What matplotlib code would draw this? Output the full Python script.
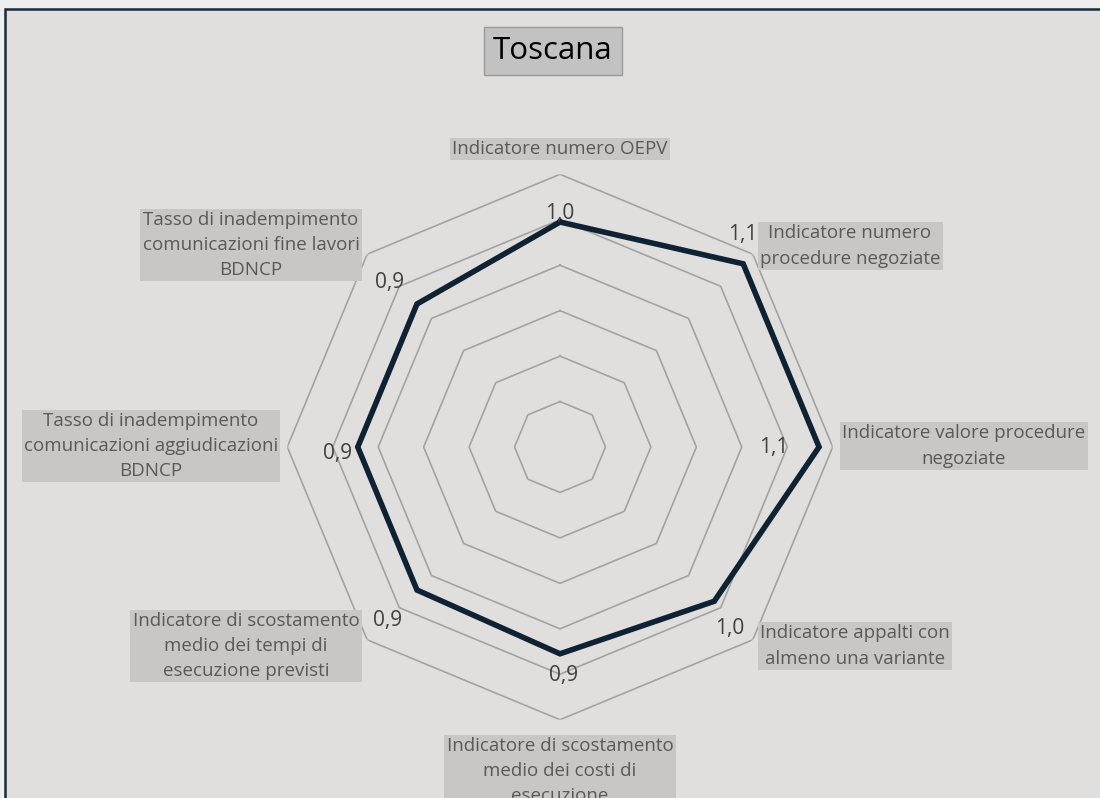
import numpy as np
import matplotlib.pyplot as plt
from matplotlib.patches import Rectangle

# Dati del grafico radar (Toscana)
titolo = "Toscana"
categorie = [
    "Indicatore numero OEPV",
    "Indicatore numero\nprocedure negoziate",
    "Indicatore valore procedure\nnegoziate",
    "Indicatore appalti con\nalmeno una variante",
    "Indicatore di scostamento\nmedio dei costi di\nesecuzione",
    "Indicatore di scostamento\nmedio dei tempi di\nesecuzione previsti",
    "Tasso di inadempimento\ncomunicazioni aggiudicazioni\nBDNCP",
    "Tasso di inadempimento\ncomunicazioni fine lavori\nBDNCP",
]
valori = [0.99, 1.14, 1.14, 0.96, 0.91, 0.89, 0.89, 0.89]
livelli = [0.2, 0.4, 0.6, 0.8, 1.0, 1.2]

# Posizioni (pixel) dei riquadri delle etichette e spostamenti delle etichette dati
pos_etichette = [(560, 149), (850, 246), (964, 446), (855, 646),
                 (560, 771), (246, 646), (151, 446), (251, 245)]
off_valori = [(0, 9), (0, 29), (-45, 0), (15, -27),
              (4, -22), (-29, -30), (-20, -6), (-27, 21)]

W, H = 1100, 798
fig = plt.figure(figsize=(W / 100, H / 100), dpi=100)
fig.patch.set_facecolor('#eeeeee')

# Cornice del grafico
fig.patches.append(Rectangle((5 / W, -0.05), 1.1, (H - 9) / H + 0.05,
                             transform=fig.transFigure, facecolor='#e0dfdd',
                             edgecolor='#1b2a3a', linewidth=1.8, zorder=-10))

def fx(x):
    return x / W

def fy(y):
    return 1 - y / H

# Assi polari centrati sul radar
cx, cy, r = 560, 447, 272.7
ax = fig.add_axes([fx(cx - r), fy(cy + r), 2 * r / W, 2 * r / H], projection='polar')
ax.set_facecolor('none')
ax.patch.set_alpha(0)
ax.set_theta_zero_location('N')
ax.set_theta_direction(-1)
ax.set_ylim(0, 1.2)
ax.grid(False)
ax.spines['polar'].set_visible(False)
ax.set_xticks([])
ax.set_yticks([])

angoli = np.linspace(0, 2 * np.pi, len(categorie), endpoint=False)
chiuso = np.append(angoli, angoli[0])

# Griglia ottagonale
for liv in livelli:
    ax.plot(chiuso, [liv] * len(chiuso), color='#a3a3a3', lw=1.2, zorder=1)

# Serie
ax.plot(chiuso, valori + [valori[0]], color='#0f2233', lw=4.0,
        solid_joinstyle='miter', zorder=3)

# Etichette dati
for a, v, off in zip(angoli, valori, off_valori):
    ax.annotate(f"{v:.1f}".replace('.', ','), (a, v), xytext=off,
                textcoords='offset pixels', ha='center', va='center',
                fontsize=15, color='#404040', family='Open Sans', zorder=4,
                annotation_clip=False)

# Etichette categorie
for testo, (x, y) in zip(categorie, pos_etichette):
    fig.text(fx(x), fy(y), testo, ha='center', va='center', fontsize=13.5,
             color='#595959', family='Open Sans', linespacing=1.5,
             multialignment='center',
             bbox=dict(boxstyle='square,pad=0.12', facecolor='#c8c7c5',
                       edgecolor='none'))

# Titolo
fig.text(fx(553), fy(51), titolo, ha='center', va='center', fontsize=22.5,
         color='#000000', family='Open Sans',
         bbox=dict(boxstyle='square,pad=0.3', facecolor='#c2c2c2',
                   edgecolor='#9a9a9a', linewidth=1.0))

fig.savefig('out.png', dpi=100)
